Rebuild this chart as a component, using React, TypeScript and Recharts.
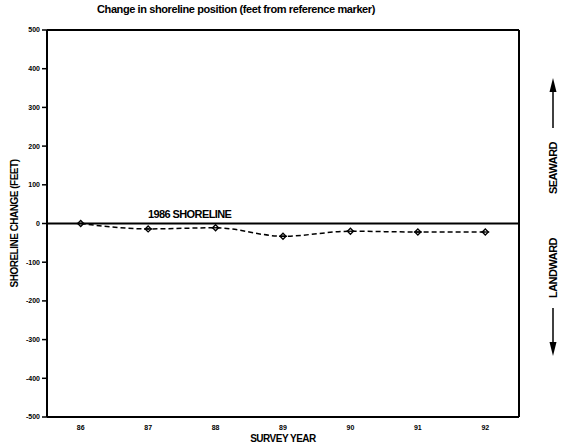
import React from "react";
import { LineChart, Line, XAxis, YAxis, ReferenceLine } from "recharts";

const years = [86, 87, 88, 89, 90, 91, 92];
const change = [0, -14, -11, -33, -20, -22, -22];
const yTicks = [-500, -400, -300, -200, -100, 0, 100, 200, 300, 400, 500];

const data = years.map((y, i) => ({ year: y, change: change[i] }));

const FONT = "'Liberation Sans', Arial, sans-serif";

const Marker = (props: any) => {
  const { cx, cy } = props;
  if (cx == null || cy == null) return null;
  return (
    <g>
      <path d={`M${cx - 3},${cy} L${cx},${cy - 3} L${cx + 3},${cy} L${cx},${cy + 3} Z`} fill="none" stroke="#000" strokeWidth={1.3} />
      <line x1={cx - 4} y1={cy} x2={cx + 4} y2={cy} stroke="#000" strokeWidth={1.3} />
    </g>
  );
};

const tickStyle = { fontSize: 7, fontWeight: 700, fill: "#000", fontFamily: FONT };

export default function App() {
  return (
    <div style={{ position: "absolute", left: 0, top: 0, width: 561, height: 447, background: "#fff", fontFamily: FONT }}>
      <div style={{ position: "absolute", left: 0, top: 3, width: 472, textAlign: "center", fontSize: 11, fontWeight: 700, letterSpacing: -0.4 }}>
        Change in shoreline position (feet from reference marker)
      </div>
      <LineChart width={561} height={447} data={data} margin={{ top: 30, right: 0, bottom: 0, left: 0 }}>
        <XAxis
          dataKey="year"
          type="number"
          domain={[85.5, 92.5]}
          ticks={years}
          stroke="#000"
          tick={tickStyle}
          tickLine={false}
          axisLine={{ stroke: "#000", strokeWidth: 2 }}
          height={30}
          label={{ value: "SURVEY YEAR", position: "insideBottom", offset: 5, style: { fontSize: 10, fontWeight: 700, fill: "#000", letterSpacing: -0.5, fontFamily: FONT } }}
        />
        <YAxis
          yAxisId="left"
          domain={[-500, 500]}
          ticks={yTicks}
          width={47}
          stroke="#000"
          tick={tickStyle}
          tickSize={5}
          tickLine={{ stroke: "#000", strokeWidth: 1.5 }}
          axisLine={{ stroke: "#000", strokeWidth: 2 }}
          label={{ value: "SHORELINE CHANGE (FEET)", angle: -90, position: "insideLeft", offset: 14, style: { textAnchor: "middle", fontSize: 10, fontWeight: 700, fill: "#000", letterSpacing: -0.5, fontFamily: FONT } }}
        />
        <YAxis
          yAxisId="right"
          orientation="right"
          domain={[-500, 500]}
          ticks={yTicks}
          width={42}
          stroke="#000"
          tick={tickStyle}
          tickSize={5}
          tickFormatter={(v: number) => String(Math.abs(v))}
          tickLine={{ stroke: "#000", strokeWidth: 1.5 }}
          axisLine={{ stroke: "#000", strokeWidth: 2 }}
        />
        <ReferenceLine yAxisId="left" y={500} stroke="#000" strokeWidth={2} />
        <ReferenceLine
          yAxisId="left"
          y={0}
          stroke="#000"
          strokeWidth={2}
          label={{ value: "1986 SHORELINE", position: "insideBottomLeft", dx: 96, dy: -1, style: { fontSize: 11, fontWeight: 700, fill: "#000", letterSpacing: -0.6, fontFamily: FONT } }}
        />
        <Line
          yAxisId="left"
          dataKey="change"
          type="monotone"
          stroke="#000"
          strokeWidth={1.5}
          strokeDasharray="5 3"
          dot={<Marker />}
          isAnimationActive={false}
        />
      </LineChart>
      <svg width={561} height={447} style={{ position: "absolute", left: 0, top: 0, pointerEvents: "none" }}>
        <text x={557} y={168} transform="rotate(-90 557 168)" textAnchor="middle" fontSize={11} fontWeight={700} fontFamily={FONT} letterSpacing={-0.5}>
          SEAWARD
        </text>
        <line x1={553} y1={128} x2={553} y2={88} stroke="#000" strokeWidth={1.5} />
        <path d="M549.5,92 L553,78 L556.5,92 Z" fill="#000" />
        <text x={557} y={268} transform="rotate(-90 557 268)" textAnchor="middle" fontSize={11} fontWeight={700} fontFamily={FONT} letterSpacing={-0.5}>
          LANDWARD
        </text>
        <line x1={553} y1={308} x2={553} y2={346} stroke="#000" strokeWidth={1.5} />
        <path d="M549.5,342 L553,356 L556.5,342 Z" fill="#000" />
      </svg>
    </div>
  );
}
